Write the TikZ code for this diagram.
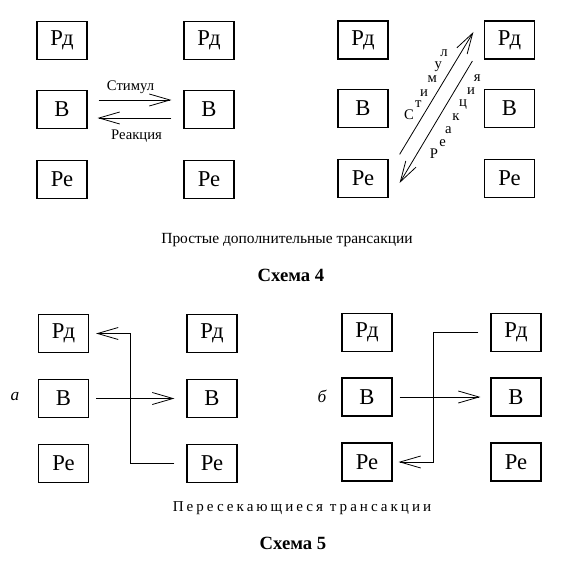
\documentclass[tikz,border=0pt]{standalone}
\usepackage{fontspec}
\setmainfont{Liberation Serif}
\newfontfamily\spacedfont[LetterSpace=20]{Liberation Serif}
\usetikzlibrary{arrows.meta,calc}

\tikzset{every picture/.style={line width=0.75pt}}
\tikzset{
  box/.style={draw, line width=0.9pt, minimum width=37.5pt, minimum height=28.5pt, inner sep=0pt, font=\fontsize{17}{17}\selectfont},
  tip/.style={-{Straight Barb[length=15.5pt,width=9pt,line width=0.6pt]}, line width=0.6pt},
  lbl/.style={font=\fontsize{11}{11}\selectfont, inner sep=0pt},
  letter/.style={font=\fontsize{11}{11}\selectfont, inner sep=0pt},
}

\begin{document}
\begin{tikzpicture}[x=0.75pt,y=0.75pt,yscale=-1,xscale=1]
    \useasboundingbox (0,0) rectangle (573,573); %set diagram to 573 x 573

    %Boxes: simple complementary, horizontal
    \foreach \n/\t/\y in {rd/Рд/40.5, b/В/109.5, re/Ре/179.5} {
      \node[box] (\n1l) at (62,\y) {\t};
      \node[box] (\n1r) at (209,\y) {\t};
    }
    %Boxes: simple complementary, diagonal
    \foreach \n/\t/\y in {rd/Рд/40, b/В/108.5, re/Ре/178.5} {
      \node[box] (\n2l) at (363,\y) {\t};
      \node[box] (\n2r) at (509.5,\y) {\t};
    }
    %Boxes: crossed, a
    \foreach \n/\t/\y in {rd/Рд/333.5, b/В/398.5, re/Ре/463.5} {
      \node[box] (\n3l) at (63.5,\y) {\t};
      \node[box] (\n3r) at (212,\y) {\t};
    }
    %Boxes: crossed, b
    \foreach \n/\t/\y in {rd/Рд/332.5, b/В/397, re/Ре/462} {
      \node[box] (\n4l) at (367,\y) {\t};
      \node[box] (\n4r) at (516,\y) {\t};
    }

    %Stimulus and response, horizontal
    \draw[tip] ($(b1l.east)+(11,-9.5)$) -- ($(b1r.west)+(-12,-9.5)$);
    \draw[tip] ($(b1r.west)+(-12,8.5)$) -- ($(b1l.east)+(10,8.5)$);
    \node[lbl] (stim1) at (130.5,87) {Стимул};
    \node[lbl] (reac1) at (136.5,136) {Реакция};

    %Stimulus and response, diagonal
    \draw[tip] ($(re2l.north east)+(11,-4.5)$) -- ($(rd2r.west)+(-10.5,-8)$);
    \draw[tip] ($(rd2r.west)+(-11.5,21)$) -- ($(re2l.east)+(11,4.5)$);
    \foreach \l/\x/\y [count=\i] in {С/409/115, т/418.3/104.3, и/424/93.3, м/432.3/79.3, у/438.3/66.7, л/444/53.3}
      \node[letter] (st\i) at (\x,\y) {\l};
    \foreach \l/\x/\y [count=\i] in {Р/434/154, е/442.7/143.3, а/448.3/130, к/456/117.3, ц/463/105, и/471/90.7, я/477.3/78.3}
      \node[letter] (re\i) at (\x,\y) {\l};

    %Crossed transactions
    \draw[tip] ($(re3r.west)+(-12,0)$) -- ++(-44,0) |- ($(rd3l.east)+(7,0)$);
    \draw[tip] ($(b3l.east)+(7,0)$) -- ($(b3r.west)+(-12,0)$);
    \draw[tip] ($(rd4r.west)+(-12,0)$) -- ++(-45,0) |- ($(re4l.east)+(6,0)$);
    \draw[tip] ($(b4l.east)+(7,0)$) -- ($(b4r.west)+(-10,0)$);
    \node[font=\fontsize{13}{13}\selectfont\itshape] (a) at (15,397) {а};
    \node[font=\fontsize{13}{13}\selectfont\itshape] (b) at (322,396) {б};

    %Captions
    \node[font=\fontsize{11.6}{12}\selectfont] (cap4) at (287,240) {Простые дополнительные трансакции};
    \node[font=\fontsize{14}{14}\selectfont\bfseries] (sch4) at (291,275) {Схема 4};
    \node[font=\fontsize{11.3}{12}\selectfont\spacedfont] (cap5) at (302,508) {Пересекающиеся трансакции};
    \node[font=\fontsize{14}{14}\selectfont\bfseries] (sch5) at (293,543) {Схема 5};

\end{tikzpicture}
\end{document}
